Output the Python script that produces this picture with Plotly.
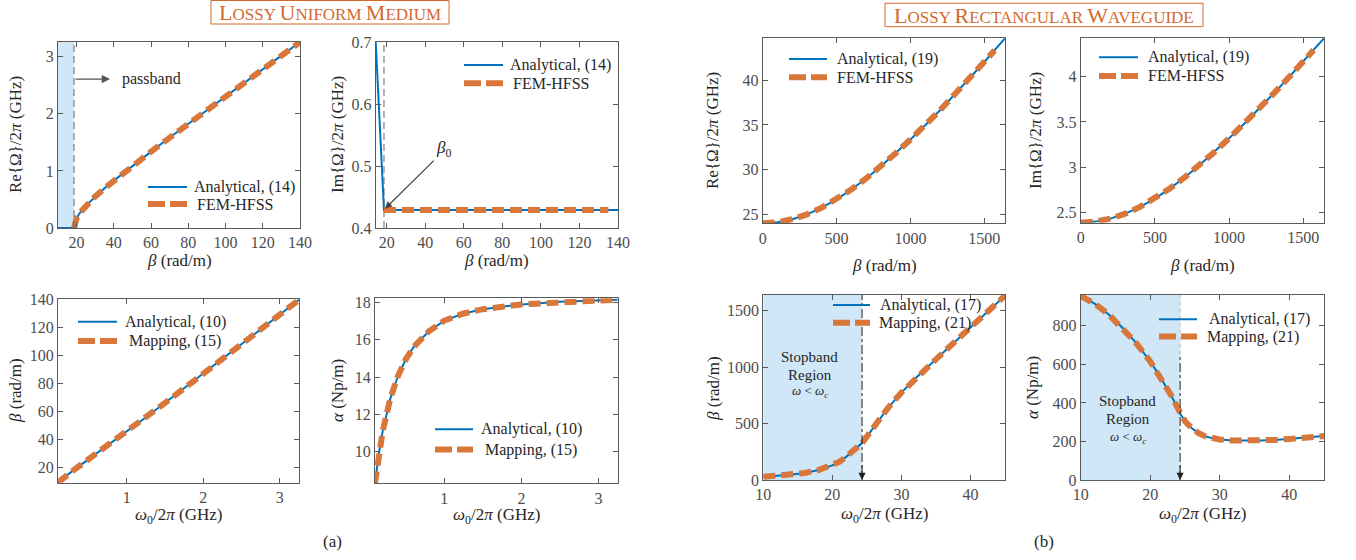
import plotly.graph_objects as go

W, H = 1356, 560
FONT = "Liberation Serif"
BLUE = "#0072BD"
ORANGE = "#D9773B"
SHADE = "#CFE7F7"
AXC = "#5a5a5a"
TXT = "#262626"
TICK = "#4d4d4d"

# ---------------- (a) Lossy uniform medium ----------------
beta_re_an = [10, 12, 14, 16, 18, 18.6, 18.8, 19, 20, 21, 22, 25, 30, 35, 40, 50, 60, 70, 80, 90, 100, 110, 120, 130, 140]
re_an = [0, 0, 0, 0, 0, 0, 0.064, 0.091, 0.173, 0.229, 0.276, 0.392, 0.553, 0.696, 0.831, 1.090, 1.339, 1.585, 1.827, 2.068, 2.307, 2.546, 2.784, 3.021, 3.258]
beta_re_fem = [18.6, 19, 20, 22, 25, 30, 35, 40, 50, 60, 70, 80, 90, 100, 110, 120, 130, 140]
re_fem = [0, 0.091, 0.173, 0.276, 0.392, 0.553, 0.696, 0.831, 1.090, 1.339, 1.585, 1.827, 2.068, 2.307, 2.546, 2.784, 3.021, 3.258]

beta_im_an = [14.3, 18.6, 20, 40, 60, 80, 100, 120, 140]
im_an = [0.700, 0.429, 0.429, 0.429, 0.429, 0.429, 0.429, 0.429, 0.429]
beta_im_fem = [18.6, 20, 40, 60, 80, 100, 120, 135]
im_fem = [0.429, 0.429, 0.429, 0.429, 0.429, 0.429, 0.429, 0.429]

freq_a = [0.1, 0.15, 0.2, 0.3, 0.4, 0.5, 0.6, 0.8, 1.0, 1.25, 1.5, 2.0, 2.5, 3.0, 3.25]
beta_a_an = [9.35, 11.79, 14.00, 18.14, 22.10, 26.02, 29.94, 37.84, 45.85, 56.00, 66.27, 87.04, 107.99, 129.05, 139.6]
beta_a_map = [9.35, 11.79, 14.00, 18.14, 22.10, 26.02, 29.94, 37.84, 45.85, 56.00, 66.27, 87.04, 107.99, 129.05, 139.6]
alpha_a_an = [8.32, 9.90, 11.11, 12.87, 14.08, 14.95, 15.60, 16.45, 17.02, 17.40, 17.63, 17.88, 18.02, 18.09, 18.13]
alpha_a_map = [8.32, 9.90, 11.11, 12.87, 14.08, 14.95, 15.60, 16.45, 17.02, 17.40, 17.63, 17.88, 18.02, 18.09, 18.13]

# ---------------- (b) Lossy rectangular waveguide ----------------
beta_b = [0, 100, 200, 300, 400, 500, 600, 700, 800, 900, 1000, 1100, 1200, 1300, 1400, 1500, 1640]
re_b_an = [24.0, 24.12, 24.46, 25.0, 25.75, 26.68, 27.78, 29.02, 30.38, 31.84, 33.38, 34.98, 36.64, 38.44, 40.22, 42.05, 44.7]
im_b_an = [2.385, 2.397, 2.430, 2.485, 2.560, 2.652, 2.762, 2.885, 3.020, 3.165, 3.318, 3.477, 3.642, 3.813, 3.988, 4.168, 4.425]
beta_b_fem = [0, 100, 200, 300, 400, 500, 600, 700, 800, 900, 1000, 1100, 1200, 1300, 1400, 1500, 1570]
re_b_fem = [24.0, 24.12, 24.46, 25.0, 25.75, 26.68, 27.78, 29.02, 30.38, 31.84, 33.38, 34.98, 36.64, 38.44, 40.22, 42.05, 43.35]
im_b_fem = [2.385, 2.397, 2.430, 2.485, 2.560, 2.652, 2.762, 2.885, 3.020, 3.165, 3.318, 3.477, 3.642, 3.813, 3.988, 4.168, 4.295]

freq_b = [10, 12, 14, 16, 18, 20, 21, 22, 23, 24, 24.3, 25, 26, 27, 28, 30, 32, 35, 38, 40, 42, 45]
beta_b_an = [28, 35, 46, 62, 88, 130, 160, 205, 255, 305, 328, 385, 470, 555, 635, 775, 900, 1070, 1240, 1350, 1460, 1634]
beta_b_map = [28, 35, 46, 62, 88, 130, 160, 205, 255, 305, 328, 385, 470, 555, 635, 775, 900, 1070, 1240, 1350, 1460, 1634]
freq_b2 = [10, 12, 14, 16, 18, 20, 21, 22, 23, 24, 24.3, 25, 26, 27, 28, 29, 30, 32, 34, 36, 38, 40, 42, 45]
alpha_b_an = [955, 915, 860, 790, 710, 615, 560, 500, 440, 370, 345, 305, 268, 242, 226, 216, 210, 205, 204, 205, 208, 213, 219, 228]
alpha_b_map = [955, 915, 860, 790, 710, 615, 560, 500, 440, 370, 345, 305, 268, 242, 226, 216, 210, 205, 204, 205, 208, 213, 219, 228]

beta0 = 18.6
f_cut = 24.3

def X(p):
    return p / W

def Y(p):
    return 1 - p / H

# subplot layout (pixel boxes), ranges, ticks
subs = {
    1: dict(bx=(58, 300), by=(42, 228), xr=[10, 140], yr=[0, 3.26],
            xt=[20, 40, 60, 80, 100, 120, 140], yt=[0, 1, 2, 3]),
    2: dict(bx=(375.7, 618), by=(42, 228), xr=[14.3, 140], yr=[0.4, 0.7],
            xt=[20, 40, 60, 80, 100, 120, 140], yt=[0.4, 0.5, 0.6, 0.7]),
    3: dict(bx=(58, 299), by=(299.3, 482.7), xr=[0.1, 3.25], yr=[9.35, 140],
            xt=[1, 2, 3], yt=[20, 40, 60, 80, 100, 120, 140]),
    4: dict(bx=(375, 617.7), by=(298.3, 483.3), xr=[0.1, 3.25], yr=[8.32, 18.21],
            xt=[1, 2, 3], yt=[10, 12, 14, 16, 18]),
    5: dict(bx=(762.7, 1005), by=(38.3, 223.3), xr=[0, 1640], yr=[24.0, 44.7],
            xt=[0, 500, 1000, 1500], yt=[25, 30, 35, 40]),
    6: dict(bx=(1080.7, 1324), by=(38.3, 222.7), xr=[0, 1640], yr=[2.385, 4.425],
            xt=[0, 500, 1000, 1500], yt=[2.5, 3, 3.5, 4]),
    7: dict(bx=(763.3, 1005), by=(295, 480), xr=[10, 45], yr=[0, 1640],
            xt=[10, 20, 30, 40], yt=[0, 500, 1000, 1500]),
    8: dict(bx=(1080.7, 1324), by=(295, 480), xr=[10, 45], yr=[0, 960],
            xt=[10, 20, 30, 40], yt=[0, 200, 400, 600, 800]),
}

def fmt(v):
    return "%g" % v

fig = go.Figure()

def ax_name(i, kind):
    return kind if i == 1 else f"{kind}{i}"

def xref(i):
    return "x" if i == 1 else f"x{i}"

def yref(i):
    return "y" if i == 1 else f"y{i}"

def add_pair(i, xa, ya, xb, yb, name_a, name_b):
    fig.add_trace(go.Scatter(x=xa, y=ya, xaxis=xref(i), yaxis=yref(i), mode="lines", name=name_a,
                             line=dict(color=BLUE, width=2), showlegend=False))
    fig.add_trace(go.Scatter(x=xb, y=yb, xaxis=xref(i), yaxis=yref(i), mode="lines", name=name_b,
                             line=dict(color=ORANGE, width=6, dash="12px,6px"), showlegend=False))

add_pair(1, beta_re_an, re_an, beta_re_fem, re_fem, "Analytical, (14)", "FEM-HFSS")
add_pair(2, beta_im_an, im_an, beta_im_fem, im_fem, "Analytical, (14)", "FEM-HFSS")
add_pair(3, freq_a, beta_a_an, freq_a, beta_a_map, "Analytical, (10)", "Mapping, (15)")
add_pair(4, freq_a, alpha_a_an, freq_a, alpha_a_map, "Analytical, (10)", "Mapping, (15)")
add_pair(5, beta_b, re_b_an, beta_b_fem, re_b_fem, "Analytical, (19)", "FEM-HFSS")
add_pair(6, beta_b, im_b_an, beta_b_fem, im_b_fem, "Analytical, (19)", "FEM-HFSS")
add_pair(7, freq_b, beta_b_an, freq_b, beta_b_map, "Analytical, (17)", "Mapping, (21)")
add_pair(8, freq_b2, alpha_b_an, freq_b2, alpha_b_map, "Analytical, (17)", "Mapping, (21)")

layout = dict(width=W, height=H, margin=dict(l=0, r=0, t=0, b=0),
              paper_bgcolor="white", plot_bgcolor="white",
              font=dict(family=FONT, size=16, color=TXT), showlegend=False)

for i, s in subs.items():
    common = dict(showline=True, linecolor=AXC, linewidth=1, mirror="ticks",
                  ticks="inside", ticklen=5, tickcolor=AXC, tickwidth=1,
                  showgrid=False, zeroline=False, automargin=False,
                  tickfont=dict(family=FONT, size=16, color=TICK))
    layout[ax_name(i, "xaxis")] = dict(common, domain=[X(s["bx"][0]), X(s["bx"][1])],
                                       range=s["xr"], tickmode="array", tickvals=s["xt"],
                                       ticktext=[fmt(v) for v in s["xt"]], anchor=yref(i))
    layout[ax_name(i, "yaxis")] = dict(common, domain=[Y(s["by"][1]), Y(s["by"][0])],
                                       range=s["yr"], tickmode="array", tickvals=s["yt"],
                                       ticktext=[fmt(v) for v in s["yt"]], anchor=xref(i))

fig.update_layout(**layout)

shapes = []
ann = []

# shaded regions
shapes.append(dict(type="rect", xref="x", yref="y", x0=10, x1=beta0, y0=0, y1=3.26,
                   fillcolor=SHADE, line=dict(width=0), layer="below"))
shapes.append(dict(type="rect", xref="x7", yref="y7", x0=10, x1=f_cut, y0=0, y1=1640,
                   fillcolor=SHADE, line=dict(width=0), layer="below"))
shapes.append(dict(type="rect", xref="x8", yref="y8", x0=10, x1=f_cut, y0=0, y1=960,
                   fillcolor=SHADE, line=dict(width=0), layer="below"))

# vertical marker lines
shapes.append(dict(type="line", xref="x", yref="y", x0=beta0, x1=beta0, y0=0, y1=3.26,
                   line=dict(color="#666666", width=1, dash="7px,4px")))
shapes.append(dict(type="line", xref="x2", yref="y2", x0=beta0, x1=beta0, y0=0.4, y1=0.7,
                   line=dict(color="#666666", width=1, dash="7px,4px"), layer="below"))
shapes.append(dict(type="line", xref="x7", yref="y7", x0=f_cut, x1=f_cut, y0=0, y1=1640,
                   line=dict(color="#222222", width=1, dash="dashdot")))
shapes.append(dict(type="line", xref="x8", yref="y8", x0=f_cut, x1=f_cut, y0=0, y1=650,
                   line=dict(color="#222222", width=1, dash="dashdot")))
shapes.append(dict(type="line", xref="x8", yref="y8", x0=f_cut, x1=f_cut, y0=650, y1=960,
                   line=dict(color="#bbbbbb", width=1, dash="4px,3px")))

# arrowheads at cutoff
for i in (7, 8):
    ann.append(dict(xref=xref(i), yref=yref(i), x=f_cut, y=0, ax=0, ay=-16,
                    showarrow=True, arrowhead=2, arrowsize=1.3, arrowwidth=1.1,
                    arrowcolor="#222222", text=""))

# passband arrow + label
ann.append(dict(xref="x", yref="y", x=38, y=2.61, axref="x", ayref="y", ax=beta0, ay=2.61,
                showarrow=True, arrowhead=2, arrowsize=1.2, arrowwidth=1.4, arrowcolor="#555555", text=""))
ann.append(dict(xref="x", yref="y", x=43.4, y=2.61, text="passband", showarrow=False,
                xanchor="left", yanchor="middle", font=dict(size=16, color=TXT)))
# beta0 arrow + label
ann.append(dict(xref="x2", yref="y2", x=19.1, y=0.431, axref="x2", ayref="y2", ax=45.2, ay=0.511,
                showarrow=True, arrowhead=2, arrowsize=1.2, arrowwidth=1.2, arrowcolor="#444444", text=""))
ann.append(dict(xref="x2", yref="y2", x=49.6, y=0.527, text="<i>β</i><sub>0</sub>", showarrow=False,
                xanchor="center", yanchor="middle", font=dict(size=17, color=TXT)))

# stopband texts
for i, xs, ys in ((7, 16.75, [1092, 932, 781]), (8, 16.8, [410, 317, 223])):
    ann.append(dict(xref=xref(i), yref=yref(i), x=xs, y=ys[0], text="Stopband", showarrow=False,
                    font=dict(size=15, color=TXT)))
    ann.append(dict(xref=xref(i), yref=yref(i), x=xs, y=ys[1], text="Region", showarrow=False,
                    font=dict(size=15, color=TXT)))
    ann.append(dict(xref=xref(i), yref=yref(i), x=xs, y=ys[2],
                    text="<i>ω</i> &lt; <i>ω</i><sub><i>c</i></sub>", showarrow=False,
                    font=dict(size=13, color=TXT)))

# legends drawn by hand: (y1, y2, sample x0, x1, text x1, text x2, labels)
legends = [
    (187, 204, 148, 187, 191.5, 195, "Analytical, (14)", "FEM-HFSS"),
    (65, 83.3, 464, 503, 508, 511, "Analytical, (14)", "FEM-HFSS"),
    (321.7, 341, 78, 117, 123, 127, "Analytical, (10)", "Mapping, (15)"),
    (429.3, 449.5, 435, 473, 478.5, 483, "Analytical, (10)", "Mapping, (15)"),
    (59, 77.3, 789, 827, 835, 835, "Analytical, (19)", "FEM-HFSS"),
    (57.3, 76, 1099, 1138, 1146, 1146, "Analytical, (19)", "FEM-HFSS"),
    (305, 322.7, 833, 870, 878, 877, "Analytical, (17)", "Mapping, (21)"),
    (319.3, 336.5, 1159, 1197, 1206.5, 1205, "Analytical, (17)", "Mapping, (21)"),
]
for (ya, yb, s0, s1, t1, t2, l1, l2) in legends:
    shapes.append(dict(type="line", xref="paper", yref="paper", x0=X(s0), x1=X(s1), y0=Y(ya), y1=Y(ya),
                       line=dict(color=BLUE, width=2)))
    shapes.append(dict(type="line", xref="paper", yref="paper", x0=X(s0), x1=X(s1), y0=Y(yb), y1=Y(yb),
                       line=dict(color=ORANGE, width=6, dash="17px,5px")))
    ann.append(dict(xref="paper", yref="paper", x=X(t1), y=Y(ya), text=l1, showarrow=False,
                    xanchor="left", yanchor="middle", font=dict(size=16, color=TXT)))
    ann.append(dict(xref="paper", yref="paper", x=X(t2), y=Y(yb), text=l2, showarrow=False,
                    xanchor="left", yanchor="middle", font=dict(size=16, color=TXT)))

# axis titles
xtitles = [
    (179, 260, "<i>β</i> (rad/m)"), (497, 260, "<i>β</i> (rad/m)"),
    (178, 516, "<i>ω</i><sub>0</sub>/2<i>π</i> (GHz)"), (496, 516, "<i>ω</i><sub>0</sub>/2<i>π</i> (GHz)"),
    (884, 265, "<i>β</i> (rad/m)"), (1202, 265, "<i>β</i> (rad/m)"),
    (884, 515, "<i>ω</i><sub>0</sub>/2<i>π</i> (GHz)"), (1202, 515, "<i>ω</i><sub>0</sub>/2<i>π</i> (GHz)"),
]
for (xp, yp, t) in xtitles:
    ann.append(dict(xref="paper", yref="paper", x=X(xp), y=Y(yp), text=t, showarrow=False,
                    xanchor="center", yanchor="middle", font=dict(size=17, color=TXT)))
ytitles = [
    (15, 135, "Re{Ω}/2<i>π</i> (GHz)"), (337, 135, "Im{Ω}/2<i>π</i> (GHz)"),
    (15, 391, "<i>β</i> (rad/m)"), (337, 391, "<i>α</i> (Np/m)"),
    (712, 131, "Re{Ω}/2<i>π</i> (GHz)"), (1035, 131, "Im{Ω}/2<i>π</i> (GHz)"),
    (713, 388, "<i>β</i> (rad/m)"), (1032, 388, "<i>α</i> (Np/m)"),
]
for (xp, yp, t) in ytitles:
    ann.append(dict(xref="paper", yref="paper", x=X(xp), y=Y(yp), text=t, showarrow=False,
                    textangle=-90, xanchor="center", yanchor="middle", font=dict(size=17, color=TXT)))

# panel labels
ann.append(dict(xref="paper", yref="paper", x=X(332), y=Y(541), text="(a)", showarrow=False,
                xanchor="center", yanchor="middle", font=dict(size=17, color=TXT)))
ann.append(dict(xref="paper", yref="paper", x=X(1044), y=Y(541), text="(b)", showarrow=False,
                xanchor="center", yanchor="middle", font=dict(size=17, color=TXT)))

# group titles (small caps) with framed boxes
TC = "#D4692C"
def smallcaps(words, big=22):
    out = []
    for w in words:
        out.append(f"<span style='font-size:{big}px'>{w[0]}</span>{w[1:]}")
    return " ".join(out)

shapes.append(dict(type="rect", xref="paper", yref="paper", x0=X(211), x1=X(449), y0=Y(24), y1=Y(0.5),
                   line=dict(color=TC, width=1), fillcolor="rgba(0,0,0,0)"))
shapes.append(dict(type="rect", xref="paper", yref="paper", x0=X(885), x1=X(1203), y0=Y(26.7), y1=Y(3.3),
                   line=dict(color=TC, width=1), fillcolor="rgba(0,0,0,0)"))
ann.append(dict(xref="paper", yref="paper", x=X(330), y=Y(12.5),
                text=smallcaps(["LOSSY", "UNIFORM", "MEDIUM"]), showarrow=False,
                xanchor="center", yanchor="middle", font=dict(size=17, color=TC)))
ann.append(dict(xref="paper", yref="paper", x=X(1044), y=Y(15.5),
                text=smallcaps(["LOSSY", "RECTANGULAR", "WAVEGUIDE"]), showarrow=False,
                xanchor="center", yanchor="middle", font=dict(size=17, color=TC)))

fig.update_layout(shapes=shapes, annotations=ann)
fig.write_html("out.html")
